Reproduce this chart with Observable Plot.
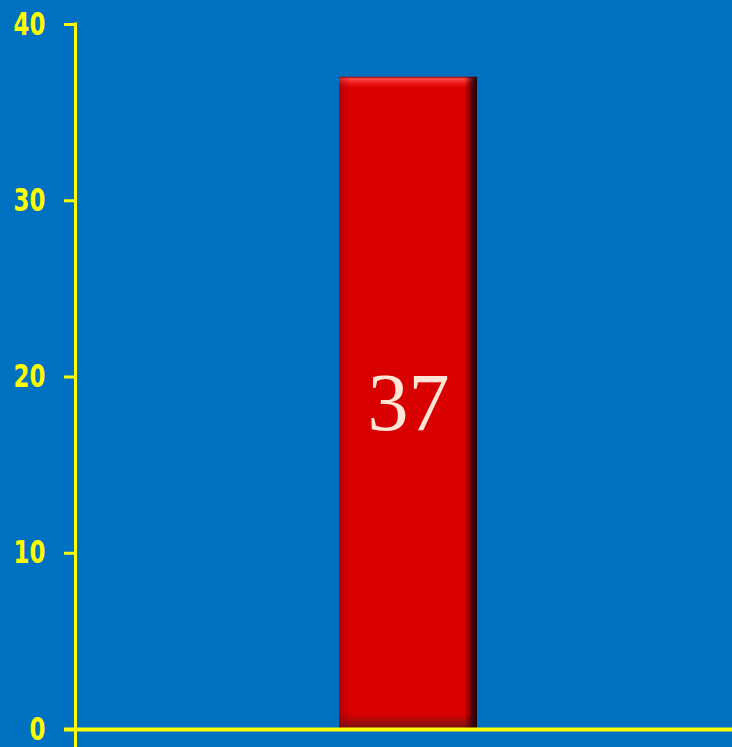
<!DOCTYPE html>
<html>
<head>
<meta charset="utf-8">
<script src="https://cdn.jsdelivr.net/npm/d3@7"></script>
<script src="https://cdn.jsdelivr.net/npm/@observablehq/plot@0.6"></script>
<style>
  html, body { margin: 0; padding: 0; background: #0070C0; overflow: hidden; }
  #chart svg { display: block; }
</style>
</head>
<body>
<svg width="0" height="0" style="position:absolute">
  <defs>
    <linearGradient id="gv" x1="0" y1="0" x2="0" y2="1">
      <stop offset="0" stop-color="#9A0000" stop-opacity="1"/>
      <stop offset="0.003" stop-color="#FF5050" stop-opacity="0.95"/>
      <stop offset="0.009" stop-color="#FF3030" stop-opacity="0.6"/>
      <stop offset="0.020" stop-color="#D90000" stop-opacity="0"/>
      <stop offset="0.978" stop-color="#701010" stop-opacity="0"/>
      <stop offset="0.990" stop-color="#7A1515" stop-opacity="0.6"/>
      <stop offset="1" stop-color="#601010" stop-opacity="0.85"/>
    </linearGradient>
    <linearGradient id="gh" x1="0" y1="0" x2="1" y2="0">
      <stop offset="0" stop-color="#800000" stop-opacity="0.4"/>
      <stop offset="0.08" stop-color="#800000" stop-opacity="0"/>
      <stop offset="0.91" stop-color="#200000" stop-opacity="0"/>
      <stop offset="0.965" stop-color="#200000" stop-opacity="0.7"/>
      <stop offset="1" stop-color="#100000" stop-opacity="0.95"/>
    </linearGradient>
  </defs>
</svg>
<div id="chart"></div>
<script>
const categories = ["Value"];
const values = [37];
const yTicks = [0, 10, 20, 30, 40];

const data = categories.map((c, i) => ({category: c, value: values[i]}));

const YELLOW = "#FFFF00";
const tickFont = "'DejaVu Sans Condensed', 'DejaVu Sans', sans-serif";

const marks = [
  Plot.barY(data, {x: "category", y: "value", fill: "#D90000"}),
  Plot.barY(data, {x: "category", y: "value", fill: "url(#gv)"}),
  Plot.barY(data, {x: "category", y: "value", fill: "url(#gh)"}),
  Plot.text(data, {
    x: "category", y: d => d.value / 2, text: d => String(d.value),
    fill: "#FFE6D5", fontSize: 82, fontWeight: "normal",
    fontFamily: "'Liberation Serif', 'Times New Roman', serif",
    lineAnchor: "middle"
  }),
  Plot.ruleY([0], {stroke: YELLOW, strokeWidth: 4, insetLeft: -11})
];
if (Plot.axisY) {
  marks.push(Plot.axisY({
    ticks: yTicks, tickSize: 11, tickPadding: 19, color: YELLOW, strokeWidth: 3,
    fontSize: 30, fontWeight: "bold", fontFamily: tickFont, label: null
  }));
}

const plot = Plot.plot({
  width: 732, height: 747,
  marginLeft: 75, marginRight: 0, marginTop: 24, marginBottom: 18,
  style: {background: "#0070C0", color: YELLOW, overflow: "visible", fontFamily: tickFont, fontSize: "30px", fontWeight: "bold"},
  x: {domain: categories, padding: 0.653, align: 0.509, axis: null},
  y: {domain: [0, 40], ticks: yTicks, tickSize: 11, tickPadding: 19, label: null, axis: Plot.axisY ? null : "left"},
  marks
});
document.getElementById("chart").appendChild(plot);

const svg = d3.select(plot);
// condense the tick labels (tall, narrow bold digits as in the reference)
svg.selectAll("g[aria-label='y-axis tick label'] text").each(function () {
  const t = this.getAttribute("transform") || "";
  this.setAttribute("transform", t + " scale(0.85,1.05)");
});
// vertical axis line of the y axis, running past the baseline to the bottom edge
const yScale = plot.scale("y");
svg.append("line")
  .attr("x1", 75.5).attr("x2", 75.5)
  .attr("y1", yScale.apply(40) - 1.5).attr("y2", 747)
  .attr("stroke", YELLOW).attr("stroke-width", 3);
svg.selectAll("g[aria-label='y-axis tick'] path").attr("stroke-width", 3);
</script>
</body>
</html>
